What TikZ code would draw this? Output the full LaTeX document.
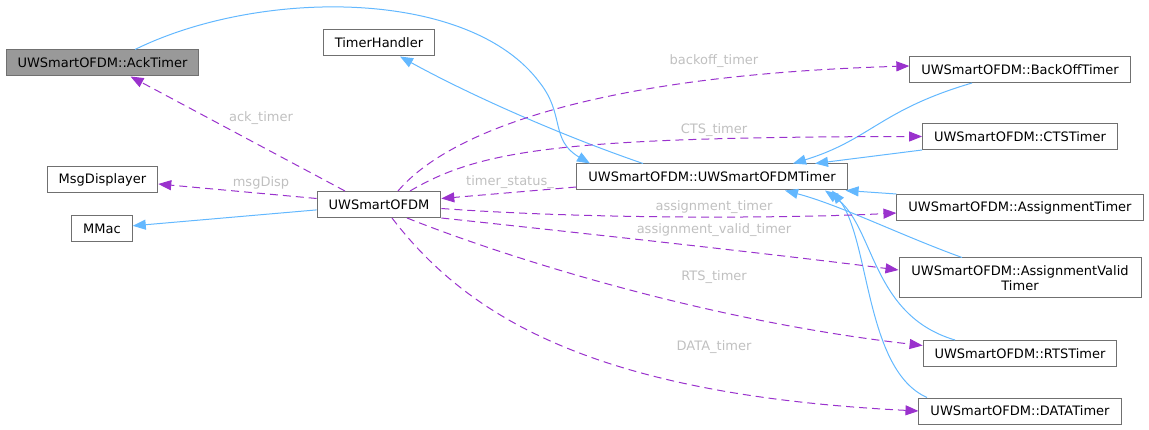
\documentclass[tikz,border=0pt]{standalone}
\usepackage{fontspec}
\setmainfont{DejaVu Sans}
\usetikzlibrary{arrows.meta}
\definecolor{inhblue}{HTML}{63B8FF}
\definecolor{usepurple}{HTML}{9A32CD}
\definecolor{boxline}{HTML}{707070}
\definecolor{focusfill}{HTML}{999999}
\definecolor{lblgray}{HTML}{C0C0C0}
\begin{document}
\begin{tikzpicture}[x=1pt,y=-1pt,
        every node/.style={font=\fontsize{13}{15}\selectfont},
        cls/.style={draw=boxline,fill=white,line width=1pt,inner xsep=11.5pt,inner ysep=0pt,minimum height=26pt},
        inh/.style={draw=inhblue,line width=1pt,-{Triangle[length=13pt,width=10pt]}},
        use/.style={draw=usepurple,line width=1pt,dash pattern=on 8pt off 5pt,-{Triangle[length=13pt,width=10pt]}},
        lbl/.style={text=lblgray,inner sep=0pt}]
    \useasboundingbox (0,0) rectangle (1149,430);
    \node[cls,fill=focusfill] (ack) at (102.5,63) {UWSmartOFDM::AckTimer};
    \node[cls] (th) at (379,43) {TimerHandler};
    \node[cls] (msg) at (102.5,180) {MsgDisplayer};
    \node[cls] (mmac) at (102,228.5) {MMac};
    \node[cls] (ofdm) at (379,204.5) {UWSmartOFDM};
    \node[cls] (timer) at (712,177) {UWSmartOFDM::UWSmartOFDMTimer};
    \node[cls] (boff) at (1020,69.5) {UWSmartOFDM::BackOffTimer};
    \node[cls] (cts) at (1020,136.5) {UWSmartOFDM::CTSTimer};
    \node[cls] (asg) at (1020,207.5) {UWSmartOFDM::AssignmentTimer};
    \node[cls,align=center,minimum height=40pt,minimum width=242pt] (avt) at (1020,278) {UWSmartOFDM::AssignmentValid\\Timer};
    \node[cls] (rts) at (1020,353.5) {UWSmartOFDM::RTSTimer};
    \node[cls] (data) at (1020,411) {UWSmartOFDM::DATATimer};
    \draw[inh] (ofdm) -- (mmac);
    \draw[inh] ([xshift=-69pt]timer.north) .. controls (560,135) and (470,95) .. ([xshift=21pt]th.south);
    \draw[inh] ([xshift=32.5pt]ack.north) .. controls (260,-12) and (470,-12) .. (540,83)
        .. controls (565,115) and (550,140) .. ([xshift=-122pt]timer.north);
    \draw[inh] ([xshift=-48pt]boff.south) .. controls (880,110) and (870,140) .. ([xshift=81pt]timer.north);
    \draw[inh] (cts.south west) -- ([xshift=103pt]timer.north);
    \draw[inh] (asg.north west) -- ([xshift=-2pt]timer.south east);
    \draw[inh] ([xshift=-58pt]avt.north) .. controls (900,235) and (840,205) .. ([xshift=73pt]timer.south);
    \draw[inh] ([xshift=-65pt]rts.north) .. controls (870,315) and (875,225) .. ([xshift=113pt]timer.south);
    \draw[inh] ([xshift=-93pt]data.north) .. controls (865,370) and (870,240) .. ([xshift=120pt]timer.south);
    \draw[use] ([xshift=-34pt]ofdm.north) -- ([xshift=28pt]ack.south);
    \draw[use] ([yshift=6pt]ofdm.west) -- ([yshift=-4pt]msg.east);
    \draw[use] ([yshift=-10pt]timer.west) -- ([yshift=6pt]ofdm.east);
    \draw[use] ([xshift=19pt]ofdm.north) .. controls (450,130) and (600,75) .. ([yshift=3.5pt]boff.west);
    \draw[use] ([xshift=31pt]ofdm.north) .. controls (480,150) and (560,137) .. (cts.west);
    \draw[use] ([yshift=-4pt]ofdm.east) .. controls (600,220) and (800,218) .. ([yshift=-5.5pt]asg.west);
    \draw[use] (ofdm.south east) .. controls (600,235) and (780,255) .. ([yshift=8pt]avt.west);
    \draw[use] ([xshift=28pt]ofdm.south) .. controls (500,255) and (700,320) .. ([yshift=8pt]rts.west);
    \draw[use] ([xshift=13pt]ofdm.south) .. controls (470,320) and (600,395) .. (data.west);
    \node[lbl] (l-ack) at (261,118) {ack\_timer};
    \node[lbl] (l-msg) at (261,183) {msgDisp};
    \node[lbl] (l-status) at (510,182) {timer\_status\_};
    \node[lbl] (l-boff) at (714,61) {backoff\_timer};
    \node[lbl] (l-cts) at (714,130) {CTS\_timer};
    \node[lbl] (l-asg) at (714,207) {assignment\_timer};
    \node[lbl] (l-avt) at (714,230) {assignment\_valid\_timer};
    \node[lbl] (l-rts) at (714,277) {RTS\_timer};
    \node[lbl] (l-data) at (714,347) {DATA\_timer};
\end{tikzpicture}
\end{document}
